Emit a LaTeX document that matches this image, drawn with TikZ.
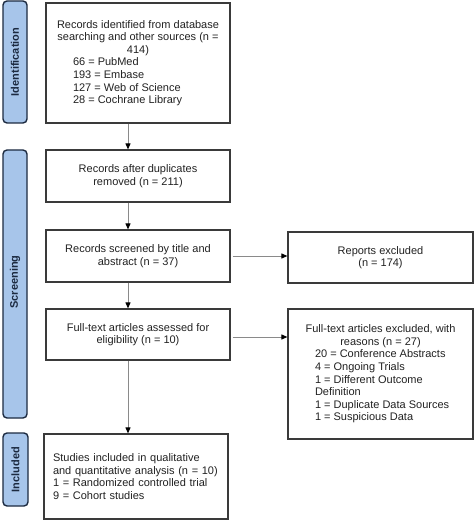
\documentclass[tikz,border=0pt]{standalone}
\usepackage{fontspec}
\setmainfont{Liberation Sans}
\usetikzlibrary{arrows.meta,calc}
\definecolor{barfill}{HTML}{A7C5EA}
\definecolor{bardraw}{HTML}{1C2A40}
\definecolor{boxdraw}{HTML}{3A3A3A}
\definecolor{txt}{HTML}{222222}
\definecolor{linegray}{HTML}{8A8A8A}
\begin{document}
\begin{tikzpicture}[x=1pt,y=-1pt,
  font=\fontsize{11}{12.6}\selectfont, text=txt,
  stagebox/.style={draw=boxdraw, line width=1.2pt, fill=white, minimum width=184pt, inner sep=0pt, align=center},
  sidebar/.style={draw=bardraw, line width=1.4pt, fill=barfill, rounded corners=4pt},
  sidetext/.style={rotate=90, font=\fontsize{11}{13}\selectfont\bfseries, text=bardraw},
  flow/.style={draw=linegray, line width=0.9pt, -{Triangle[length=6pt,width=5pt,color=black]}}
]
\useasboundingbox (0,0) rectangle (474,521);
% side bars
\draw[sidebar] (3,1) rectangle (27,123);
\node[sidetext] (t1) at (15,62) {Identification};
\draw[sidebar] (3,150) rectangle (27,418);
\node[sidetext] (t2) at (15,282) {Screening};
\draw[sidebar] (3,433) rectangle (28,506);
\node[sidetext] (t3) at (15.5,469.5) {Included};
% boxes
\node[stagebox, minimum height=120pt, align=left] (b1) at (138,63) {%
\makebox[162pt][s]{Records identified from database}\\
\makebox[162pt]{searching and other sources (n =}\\
\makebox[162pt]{414)}\\
\hspace*{16pt}66 = PubMed\\
\hspace*{16pt}193 = Embase\\
\hspace*{16pt}127 = Web of Science\\
\hspace*{16pt}28 = Cochrane Library};
\node[stagebox, minimum height=52pt] (b2) at (138,176) {Records after duplicates\\removed (n = 211)};
\node[stagebox, minimum height=52pt] (b3) at (138,256) {Records screened by title and\\abstract (n = 37)};
\node[stagebox, minimum height=51pt] (b4) at (138,334.5) {Full-text articles assessed for\\eligibility (n = 10)};
\node[stagebox, minimum width=185pt, minimum height=51pt] (r1) at (380.5,257.5) {Reports excluded\\(n = 174)};
\node[stagebox, minimum width=185pt, minimum height=130pt, align=left] (r2) at (380.5,374) {%
\makebox[151pt]{Full-text articles excluded, with}\\
\makebox[151pt]{reasons (n = 27)}\\
\hspace*{10pt}20 = Conference Abstracts\\
\hspace*{10pt}4 = Ongoing Trials\\
\hspace*{10pt}1 = Different Outcome\\
\hspace*{10pt}Definition\\
\hspace*{10pt}1 = Duplicate Data Sources\\
\hspace*{10pt}1 = Suspicious Data};
\node[stagebox, minimum height=85pt, text width=166pt, inner xsep=9pt, align=left] (b6) at (136,476.5) {%
Studies included in qualitative\\
and quantitative analysis (n = 10)\\
1 = Randomized controlled trial\\
9 = Cohort studies};
% connectors
\coordinate (ax) at (128,0);
\draw[flow] (b1.south -| ax) -- (b2.north -| ax);
\draw[flow] (b2.south -| ax) -- (b3.north -| ax);
\draw[flow] (b3.south -| ax) -- (b4.north -| ax);
\draw[flow] (b4.south -| ax) -- (b6.north -| ax);
\draw[flow, shorten <=2pt] (b3.east) -- (b3.east -| r1.west);
\coordinate (h2) at ($(b4.east)+(0,2.5)$);
\draw[flow, shorten <=2pt] (h2) -- (h2 -| r2.west);
\end{tikzpicture}
\end{document}
